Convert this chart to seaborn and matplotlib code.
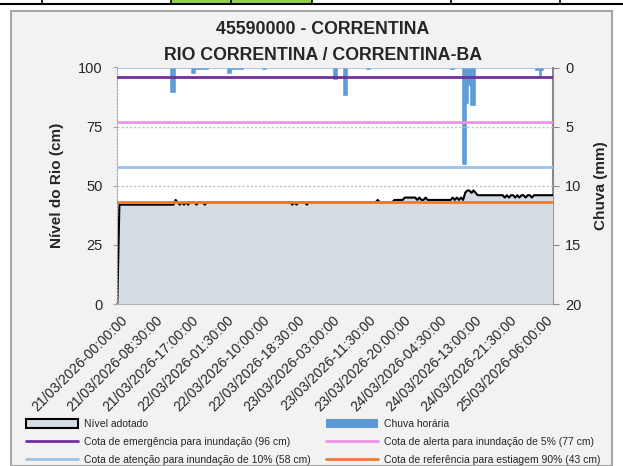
import matplotlib
matplotlib.use("Agg")
import matplotlib.pyplot as plt
from matplotlib.patches import Rectangle, Patch
from matplotlib.lines import Line2D
import numpy as np
import pandas as pd
import seaborn as sns

# ---- data (30 min slots from 21/03/2026 00:00) ----
n_slots = 210
start = "2026-03-21 00:00"

# level changes: (slot, cm) -> value holds until next change
level_steps = [(0, 0), (1, 42), (28, 44), (29, 43), (30, 42), (31, 43), (32, 42), (33, 43),
               (34, 42), (35, 43), (38, 42), (39, 43), (42, 42), (43, 43), (84, 42), (85, 43),
               (86, 42), (87, 43), (91, 42), (92, 43), (125, 44), (126, 43), (133, 44),
               (138, 45), (144, 44), (145, 45), (146, 44), (148, 45), (149, 44), (161, 45),
               (162, 44), (163, 45), (164, 44), (165, 45), (166, 44), (167, 47), (168, 48),
               (170, 47), (171, 48), (172, 47), (173, 46), (186, 45), (187, 46), (188, 45),
               (189, 46), (191, 45), (192, 46), (193, 45), (194, 46), (196, 45), (197, 46),
               (199, 45), (200, 46)]

# rain (slot, mm)
rain_obs = [(26, 2.1), (27, 2.1), (36, 0.45), (37, 0.45), (38, 0.15), (39, 0.15), (40, 0.15),
            (41, 0.15), (42, 0.15), (43, 0.15), (53, 0.45), (54, 0.45), (55, 0.15), (56, 0.15),
            (57, 0.15), (58, 0.15), (59, 0.15), (60, 0.15), (70, 0.15), (71, 0.15),
            (104, 0.95), (105, 0.95), (109, 2.3), (110, 2.3), (120, 0.1), (121, 0.1),
            (160, 0.1), (161, 0.1), (166, 8.2), (167, 8.2), (168, 3.0), (169, 1.5),
            (170, 3.2), (171, 3.2), (201, 0.2), (202, 0.2), (203, 0.75), (204, 0.2)]

ref_names = ["Cota de emergência para inundação (96 cm)",
             "Cota de alerta para inundação de 5% (77 cm)",
             "Cota de atenção para inundação de 10% (58 cm)",
             "Cota de referência para estiagem 90% (43 cm)"]
ref_values = [96, 77, 58, 43]
ref_colors = ["#7030a0", "#ea95e6", "#9dc3e6", "#ed7d31"]

title1 = "45590000 - CORRENTINA"
title2 = "RIO CORRENTINA / CORRENTINA-BA"

# ---- build series ----
times = pd.date_range(start, periods=n_slots, freq="30min")
level = np.zeros(n_slots)
for k, (s, v) in enumerate(level_steps):
    e = level_steps[k + 1][0] if k + 1 < len(level_steps) else n_slots
    level[s:e] = v
rain = np.zeros(n_slots)
for s, v in rain_obs:
    rain[s] = v
df = pd.DataFrame({"slot": np.arange(n_slots), "nivel": level, "chuva": rain})

sns.set_style("white")
plt.rcParams["font.family"] = ["Liberation Sans", "DejaVu Sans"]

fig = plt.figure(figsize=(6.23, 4.66), dpi=100)
W, H = 623, 466

# outer chart box and the spreadsheet row above it
fig.add_artist(Rectangle((11 / W, 0), 601 / W, 455 / H, transform=fig.transFigure,
                         facecolor="#f2f2f2", edgecolor="#a6a6a6", lw=1.5, zorder=0))
fig.add_artist(Rectangle((171 / W, 1 - 3.5 / H), 141 / W, 3.5 / H, transform=fig.transFigure,
                         facecolor="#92d050", edgecolor="none", zorder=1))
fig.add_artist(Line2D([0, 1], [1 - 4 / H] * 2, transform=fig.transFigure, color="black", lw=1.5))
for xv in [42, 171, 231, 312, 451, 560]:
    fig.add_artist(Line2D([xv / W] * 2, [1 - 4 / H, 1], transform=fig.transFigure,
                          color="black", lw=1.2))

ax2 = fig.add_axes([117.3 / W, 1 - 304 / H, 435.4 / W, 236.5 / H])
ax1 = fig.add_axes(ax2.get_position(), sharex=ax2)
ax2.set_facecolor("white")
ax1.set_zorder(ax2.get_zorder() + 1)
ax1.patch.set_visible(False)

# rain bars (secondary axis, inverted)
ax2.bar(df["slot"], df["chuva"], width=1.0, color="#5b9bd5", edgecolor="#5b9bd5", linewidth=0.4)
ax2.set_ylim(20, 0)
ax2.yaxis.tick_right()
ax2.yaxis.set_label_position("right")
ax2.set_yticks([0, 5, 10, 15, 20])

# level area
ax1.fill_between(df["slot"], 0, df["nivel"], color="#d6dce4", lw=0, zorder=1)
sns.lineplot(data=df, x="slot", y="nivel", ax=ax1, color="black", lw=1.5, zorder=2)
for v, c in zip(ref_values, ref_colors):
    ax1.axhline(v, color=c, lw=2, zorder=3)

ax1.set_ylim(0, 100)
ax1.set_yticks([0, 25, 50, 75, 100])
ax1.grid(axis="y", color="#bfbfbf", ls=(0, (1.5, 1.5)), lw=1)
ax1.set_xlim(0, n_slots - 1)

tick_pos = np.arange(0, n_slots, 12)
label_pos = np.arange(0, n_slots, 17)
ax1.set_xticks(tick_pos)
ax1.set_xticklabels([])
ax2.set_xticks(tick_pos)
ax2.set_xticklabels([])
for p in label_pos:
    ax1.text(p + 1.5, -4, times[p].strftime("%d/%m/%Y-%H:%M:%S"), rotation=45,
             ha="right", va="top", rotation_mode="anchor", fontsize=10,
             transform=ax1.transData, clip_on=False)

for a in (ax1, ax2):
    for s in a.spines.values():
        s.set_visible(False)
ax2.spines["right"].set_visible(True)
ax2.spines["right"].set_color("#898989")
ax2.spines["right"].set_linewidth(1.5)
ax2.spines["bottom"].set_visible(True)
ax2.spines["bottom"].set_color("#898989")
ax2.spines["bottom"].set_linewidth(1.5)
ax1.spines["left"].set_visible(True)
ax1.spines["left"].set_color("#a6a6a6")
ax1.spines["left"].set_linestyle((0, (1.5, 1.5)))

ax2.tick_params(axis="x", direction="out", length=4, color="#898989", width=1)
ax1.tick_params(axis="x", length=0)
ax2.tick_params(axis="y", direction="out", length=4, color="#898989", labelsize=10.5, pad=5,
                right=True, left=False)
ax1.tick_params(axis="y", direction="out", length=3, color="#a6a6a6", labelsize=10.5, pad=7.5,
                left=True)

ax1.set_xlabel("")
ax1.set_ylabel("Nível do Rio (cm)", fontsize=11, fontweight="bold", labelpad=10)
ax2.set_ylabel("Chuva (mm)", fontsize=11, fontweight="bold", labelpad=9, rotation=90)

fig.text(323 / W, 1 - 29 / H, title1, ha="center", va="center", fontsize=12.8, fontweight="bold")
fig.text(323 / W, 1 - 55 / H, title2, ha="center", va="center", fontsize=12.8, fontweight="bold")

# legend, two columns
h_level = Patch(facecolor="#d6dce4", edgecolor="black", lw=1.5)
h_rain = Patch(facecolor="#5b9bd5", edgecolor="none")
h_refs = [Line2D([], [], color=c, lw=2) for c in ref_colors]
leg_kw = dict(frameon=False, fontsize=7.5, handlelength=5.0, handleheight=0.9,
              handletextpad=0.6, labelspacing=0.75, borderpad=0, borderaxespad=0,
              loc="upper left")
leg1 = fig.legend([h_level, h_refs[0], h_refs[2]], ["Nível adotado", ref_names[0], ref_names[2]],
                  bbox_to_anchor=(26 / W, 1 - 419 / H), **leg_kw)
leg2 = fig.legend([h_rain, h_refs[1], h_refs[3]], ["Chuva horária", ref_names[1], ref_names[3]],
                  bbox_to_anchor=(326 / W, 1 - 419 / H), **leg_kw)

fig.savefig("out.png", dpi=100)
